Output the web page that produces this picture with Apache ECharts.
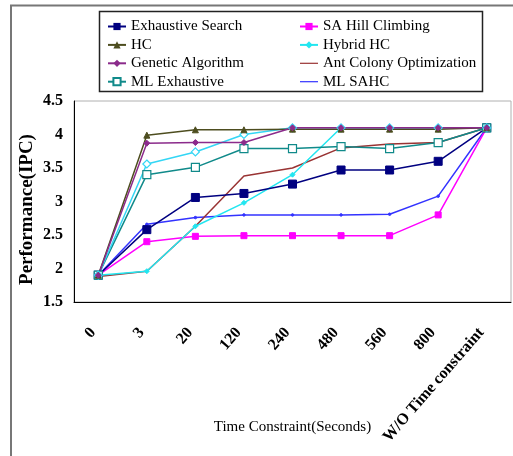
<!DOCTYPE html>
<html>
<head>
<meta charset="utf-8">
<script src="https://cdn.jsdelivr.net/npm/echarts@6/dist/echarts.min.js"></script>
<style>
html,body{margin:0;padding:0;background:#fff;}
#chart{width:513px;height:456px;}
</style>
</head>
<body>
<div id="chart"></div>
<script>
var categories = ['0', '3', '20', '120', '240', '480', '560', '800', 'W/O Time constraint'];
var yTicks = [1.5, 2, 2.5, 3, 3.5, 4, 4.5];

var exhaustiveSearch = [1.9, 2.58, 3.06, 3.12, 3.26, 3.47, 3.47, 3.6, 4.1];
var saHillClimbing   = [1.9, 2.4, 2.48, 2.49, 2.49, 2.49, 2.49, 2.8, 4.1];
var hc               = [1.9, 3.99, 4.07, 4.07, 4.08, 4.08, 4.08, 4.08, 4.1];
var hybridHC         = [1.9, 1.96, 2.63, 2.98, 3.4, 4.1, 4.1, 4.1, 4.1];
var geneticAlgorithm = [1.9, 3.87, 3.88, 3.88, 4.1, 4.1, 4.1, 4.1, 4.1];
var antColony        = [1.88, 1.96, 2.63, 3.38, 3.5, 3.8, 3.86, 3.88, 4.1];
var mlExhaustive     = [1.9, 3.4, 3.51, 3.79, 3.79, 3.82, 3.79, 3.88, 4.1];
var mlSAHC           = [1.9, 2.66, 2.76, 2.8, 2.8, 2.8, 2.81, 3.08, 4.1];
var hybridHC2        = [1.9, 3.56, 3.74, 4.0, 4.1, 4.1, 4.1, 4.1, 4.1];

var LINE_ICON = 'path://M0,4.4L18,4.4L18,5.6L0,5.6Z';
var legendLeft = ['Exhaustive Search', 'HC', 'Genetic Algorithm', 'ML Exhaustive'];
var legendRight = ['SA Hill Climbing', 'Hybrid HC', { name: 'Ant Colony Optimization', icon: LINE_ICON }, { name: 'ML SAHC', icon: LINE_ICON }];

var FONT = '"Liberation Serif", "Times New Roman", serif';

function mk(name, data, color, symbol, size, hollow) {
  return {
    name: name, type: 'line', data: data,
    symbol: symbol, symbolSize: size, showSymbol: symbol !== 'none',
    lineStyle: { color: color, width: 1.5 },
    itemStyle: hollow ? { color: '#fff', borderColor: color, borderWidth: 1.2 } : { color: color, borderColor: color },
    emphasis: { disabled: true },
    animation: false
  };
}

var chart = echarts.init(document.getElementById('chart'), null, { renderer: 'canvas' });
var legendCommon = {
  orient: 'vertical', itemWidth: 18, itemHeight: 9, itemGap: 3.4,
  textStyle: { fontFamily: FONT, fontSize: 15, color: '#000' },
  selectedMode: false
};
chart.setOption({
  backgroundColor: '#fff',
  animation: false,
  graphic: [
    { type: 'polyline', shape: { points: [[11, 456], [11, 5.5], [513, 5.5]] }, style: { stroke: '#777', lineWidth: 2, fill: null } },
    { type: 'rect', shape: { x: 99.5, y: 11.5, width: 383, height: 80 }, style: { stroke: '#222', lineWidth: 1.5, fill: null }, z: -1 }
  ],
  legend: [
    Object.assign({ data: legendLeft, left: 102, top: 14 }, legendCommon),
    Object.assign({ data: legendRight, left: 294, top: 14 }, legendCommon)
  ],
  grid: { left: 74, right: 2, top: 101, bottom: 154, show: true, borderColor: '#b0b0b0', borderWidth: 1, backgroundColor: 'transparent' },
  xAxis: {
    type: 'category', data: categories, boundaryGap: true,
    axisLine: { lineStyle: { color: '#000', width: 1 } },
    axisTick: { inside: true, length: 6, lineStyle: { color: '#000' } },
    axisLabel: { rotate: 49, interval: 0, margin: 22, padding: [0, 8, 0, 0], fontFamily: FONT, fontWeight: 'bold', fontSize: 16, color: '#000' },
    name: 'Time Constraint(Seconds)', nameLocation: 'middle', nameGap: 118, nameMoveOverlap: false,
    nameTextStyle: { fontFamily: FONT, fontSize: 15, color: '#000' }
  },
  yAxis: {
    type: 'value', min: yTicks[0], max: yTicks[yTicks.length - 1], interval: 0.5,
    axisLine: { show: true, lineStyle: { color: '#000', width: 1 } },
    axisTick: { show: false },
    splitLine: { show: false },
    axisLabel: { margin: 11, fontFamily: FONT, fontWeight: 'bold', fontSize: 16, color: '#000' },
    name: 'Performance(IPC)', nameLocation: 'middle', nameGap: 37, nameRotate: 90, nameMoveOverlap: false,
    nameTextStyle: { fontFamily: FONT, fontWeight: 'bold', fontSize: 19, color: '#000', padding: [0, 16, 0, 0] }
  },
  series: [
    mk('ML SAHC', mlSAHC, '#3333ff', 'circle', 2.5, false),
    mk('SA Hill Climbing', saHillClimbing, '#ff00ff', 'rect', 6, false),
    mk('Ant Colony Optimization', antColony, '#993333', 'none', 2, false),
    mk('Hybrid HC', hybridHC, '#22e6f0', 'diamond', 5, false),
    mk('Exhaustive Search', exhaustiveSearch, '#000080', 'rect', 8, false),
    mk('ML Exhaustive', mlExhaustive, '#108a8a', 'rect', 8, true),
    mk('ML Hybrid HC', hybridHC2, '#33d6f5', 'diamond', 8, true),
    mk('HC', hc, '#4d4d1f', 'triangle', 6, false),
    mk('Genetic Algorithm', geneticAlgorithm, '#8b2b8b', 'diamond', 6, false)
  ]
});
</script>
</body>
</html>
